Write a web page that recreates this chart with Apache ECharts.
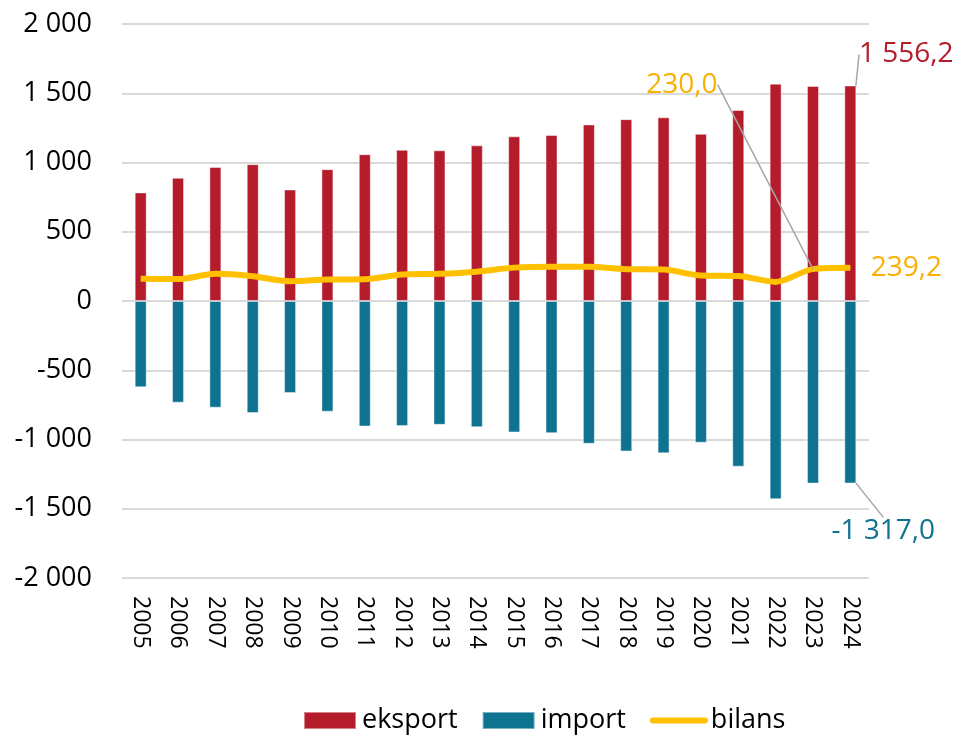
<!DOCTYPE html>
<html>
<head>
<meta charset="utf-8">
<script src="https://cdn.jsdelivr.net/npm/echarts@6/dist/echarts.min.js"></script>
<style>
  html, body { margin: 0; padding: 0; background: #fff; }
  #chart { width: 958px; height: 736px; }
</style>
</head>
<body>
<div id="chart"></div>
<script>
// lata
const years = ["2005", "2006", "2007", "2008", "2009", "2010", "2011", "2012", "2013", "2014",
  "2015", "2016", "2017", "2018", "2019", "2020", "2021", "2022", "2023", "2024"];
// wartości
const eksport = [784, 890, 967, 988, 805, 952, 1060, 1092, 1088, 1124,
  1189, 1198, 1275, 1313, 1326, 1207, 1379, 1569, 1553, 1556.2];
const importData = [-623, -734, -770, -809, -664, -799, -906, -903, -894, -911,
  -949, -954, -1031, -1086, -1100, -1023, -1196, -1431, -1318, -1317.0];
const bilans = [160, 158, 196, 179, 143, 155, 157, 192, 197, 212,
  241, 248, 247, 230, 227, 184, 180, 138, 230.0, 239.2];
const yTicks = { min: -2000, max: 2000, interval: 500 };

const FONT = "Open Sans";
const RED = "#B41B2B";
const TEAL = "#0E7291";
const YELLOW = "#FFC000";
const YELLOW_TXT = "#F9B000";
const LEADER = "#A6A6A6";

// 1556.2 -> "1 556,2"
function fmt(v, dec) {
  const neg = v < 0;
  let s = Math.abs(v).toFixed(dec);
  let [int, frac] = s.split(".");
  int = int.replace(/\B(?=(\d{3})+(?!\d))/g, " ");
  return (neg ? "-" : "") + int + (frac ? "," + frac : "");
}

const last = years.length - 1;

const chart = echarts.init(document.getElementById("chart"));

const dataLabel = (color, extra) =>
  Object.assign(
    {
      show: true,
      formatter: (p) => fmt(p.value, 1),
      fontFamily: FONT,
      fontSize: 28,
      color: color,
    },
    extra
  );
const leader = { show: true, lineStyle: { color: LEADER, width: 1.5 } };

const option = {
  animation: false,
  textStyle: { fontFamily: FONT },
  grid: { left: 122, right: 89, top: 24, bottom: 158 },
  legend: {
    bottom: 2,
    left: 303,
    padding: 0,
    itemWidth: 52,
    itemHeight: 17,
    itemGap: 24,
    textStyle: { fontFamily: FONT, fontSize: 27, color: "#000", padding: [0, 0, 0, 1] },
    data: [
      { name: "eksport", icon: "rect" },
      { name: "import", icon: "rect" },
      { name: "bilans", itemStyle: { opacity: 0 }, lineStyle: { width: 6, cap: "round" } },
    ],
  },
  xAxis: {
    type: "category",
    data: years,
    axisLine: { show: false },
    axisTick: { show: false },
    axisLabel: {
      rotate: -90,
      margin: 18,
      fontFamily: FONT,
      fontSize: 23,
      color: "#000",
    },
  },
  yAxis: {
    type: "value",
    min: yTicks.min,
    max: yTicks.max,
    interval: yTicks.interval,
    axisLine: { show: false },
    axisTick: { show: false },
    axisLabel: {
      margin: 30,
      fontFamily: FONT,
      fontSize: 27,
      color: "#000",
      formatter: (v) => fmt(v, 0),
    },
    splitLine: { lineStyle: { color: "#D9D9D9", width: 2 } },
  },
  series: [
    {
      name: "eksport",
      type: "bar",
      data: eksport.map((v, i) =>
        i === last
          ? { value: v, label: dataLabel(RED, { position: "top" }), labelLine: leader }
          : v
      ),
      barWidth: 12,
      barGap: "-100%",
      itemStyle: { color: RED, borderColor: "rgba(255,255,255,0.45)", borderWidth: 1 },
      labelLayout: (p) => (p.dataIndex === last ? { dx: 56, dy: -12 } : {}),
      z: 2,
    },
    {
      name: "import",
      type: "bar",
      data: importData.map((v, i) =>
        i === last
          ? { value: v, label: dataLabel(TEAL, { position: "bottom" }), labelLine: leader }
          : v
      ),
      barWidth: 12,
      itemStyle: { color: TEAL, borderColor: "rgba(255,255,255,0.45)", borderWidth: 1 },
      labelLayout: (p) => (p.dataIndex === last ? { dx: 33, dy: 29 } : {}),
      z: 2,
    },
    {
      name: "bilans",
      type: "line",
      data: bilans.map((v, i) => {
        if (i === last) {
          return {
            value: v,
            symbol: "circle",
            symbolSize: 1,
            label: dataLabel(YELLOW_TXT, { position: "right", distance: 20 }),
          };
        }
        if (i === last - 1) {
          return {
            value: v,
            symbol: "circle",
            symbolSize: 1,
            label: dataLabel(YELLOW_TXT, { position: "top" }),
            labelLine: leader,
          };
        }
        return v;
      }),
      symbol: "none",
      smooth: 0.3,
      lineStyle: { color: YELLOW, width: 6 },
      itemStyle: { color: YELLOW },
      labelLayout: (p) => (p.dataIndex === last - 1 ? { dx: -131, dy: -165 } : {}),
      z: 5,
    },
  ],
};

chart.setOption(option);
</script>
</body>
</html>
